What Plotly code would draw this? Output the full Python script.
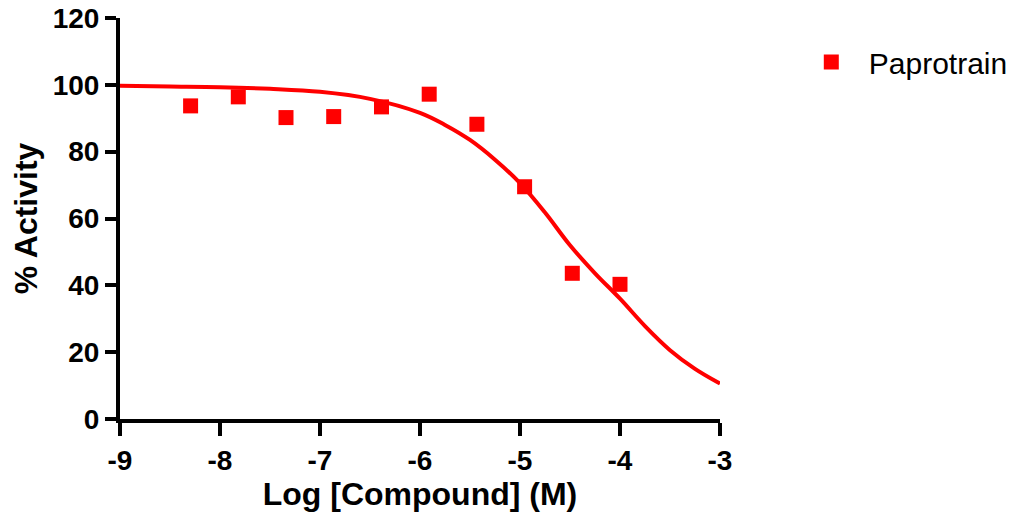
import plotly.graph_objects as go

# measured points (log molar concentration, % activity)
log_conc = [-8.294, -7.817, -7.340, -6.863, -6.385, -5.908, -5.431, -4.954, -4.477, -4.0]
activity = [93.7, 96.4, 90.2, 90.5, 93.4, 97.2, 88.2, 69.5, 43.6, 40.3]

# fitted dose-response curve
fit_x = [-9, -8.5, -8, -7.5, -7, -6.5, -6, -5.75, -5.5, -5.25, -5,
         -4.75, -4.5, -4.25, -4, -3.75, -3.5, -3.25, -3]
fit_y = [99.7, 99.5, 99.3, 98.8, 97.9, 95.8, 91.6, 88.0, 83.5, 77.6, 70.6,
         61.8, 52.0, 43.6, 36.0, 27.8, 20.6, 15.0, 10.6]

x_ticks = [-9, -8, -7, -6, -5, -4, -3]
x_labels = ["-9", "-8", "-7", "-6", "-5", "-4", "-3"]
y_ticks = [0, 20, 40, 60, 80, 100, 120]

RED = "#ff0000"
FONT = "Arial, Liberation Sans, sans-serif"

fig = go.Figure()

# curve
fig.add_trace(go.Scatter(
    x=fit_x, y=fit_y, mode="lines",
    line=dict(color=RED, width=4, shape="spline"),
    showlegend=False, hoverinfo="skip"
))

# data points
fig.add_trace(go.Scatter(
    x=log_conc, y=activity, mode="markers",
    marker=dict(symbol="square", size=15, color=RED),
    name="Paprotrain", cliponaxis=False
))

# page body adds an 8px offset, so margins are shifted up/left by 8
fig.update_layout(
    width=1020, height=518,
    paper_bgcolor="white", plot_bgcolor="white",
    margin=dict(l=112, r=308, t=10, b=107, autoexpand=False),
    font=dict(family=FONT, color="black"),
    legend=dict(
        x=1.123, y=0.955, xanchor="left", yanchor="top",
        font=dict(family=FONT, size=30, color="black"),
        bgcolor="rgba(0,0,0,0)", itemwidth=65
    ),
    xaxis=dict(
        range=[-9, -3], tickvals=x_ticks, ticktext=x_labels,
        showgrid=False, zeroline=False, automargin=False,
        showline=True, linecolor="black", linewidth=4,
        ticks="outside", ticklen=13, tickwidth=4, tickcolor="black",
        tickfont=dict(size=28, family=FONT, weight="bold"),
        ticklabeloverflow="allow",
        title=dict(text="<b>Log [Compound] (M)</b>", font=dict(size=32, family=FONT), standoff=6),
    ),
    yaxis=dict(
        range=[0, 120], tickvals=y_ticks,
        showgrid=False, zeroline=False, automargin=False,
        showline=True, linecolor="black", linewidth=4,
        ticks="outside", ticklen=11, tickwidth=4, tickcolor="black",
        tickfont=dict(size=28, family=FONT, weight="bold"),
        ticklabeloverflow="allow",
        title=dict(text="<b>% Activity</b>", font=dict(size=32, family=FONT), standoff=7),
    ),
)

fig.write_html("out.html")
